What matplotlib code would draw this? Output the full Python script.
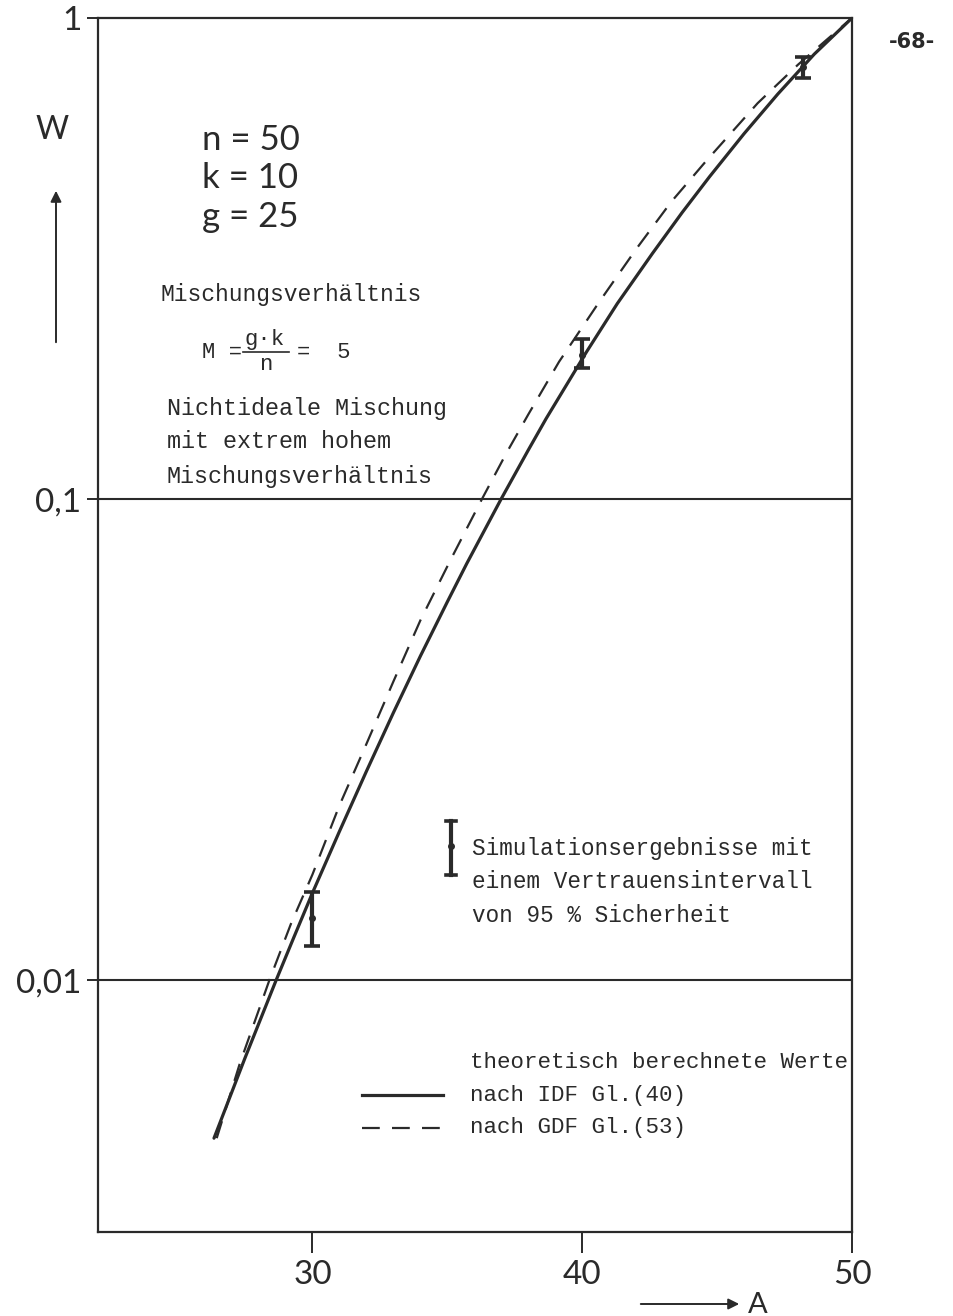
import matplotlib.pyplot as plt
from matplotlib.lines import Line2D
from matplotlib.ticker import NullLocator

# Kurve nach IDF Gl.(40)
a_idf = [26.35, 27.5, 28.65, 29.3, 30.0, 31.0, 32.0, 33.0, 34.0, 35.0, 35.72, 36.99,
         38.0, 38.66, 40.15, 41.3, 42.6, 43.7, 44.72, 46.0, 47.25, 48.6, 50.0]
w_idf = [0.0047, 0.0069, 0.01, 0.01225, 0.0152, 0.0204, 0.0272, 0.036, 0.0472, 0.0612,
         0.0735, 0.1, 0.1265, 0.147, 0.202, 0.255, 0.324, 0.394, 0.468, 0.575, 0.695,
         0.841, 1.0]

# Kurve nach GDF Gl.(53)
a_gdf = [26.45, 27.3, 28.4, 29.2, 30.0, 31.0, 32.0, 33.0, 34.0, 35.13, 36.28, 37.2,
         38.0, 39.14, 40.63, 42.0, 43.3, 44.6, 46.5, 48.0, 49.0, 50.0]
w_gdf = [0.0047, 0.0067, 0.01, 0.0131, 0.0166, 0.0231, 0.031, 0.0418, 0.056, 0.075,
         0.1, 0.125, 0.15, 0.193, 0.257, 0.331, 0.415, 0.505, 0.665, 0.80, 0.895, 1.0]

# Simulationsergebnisse mit 95 %-Vertrauensintervall
a_sim = [30, 40, 48.2]
w_sim = [0.0135, 0.199, 0.79]
w_lo = [0.0118, 0.187, 0.75]
w_hi = [0.0153, 0.215, 0.83]

x_ticks = [30, 40, 50]
y_ticks = [0.01, 0.1, 1]
y_labels = ['0,01', '0,1', '1']

W, H = 954, 1316
ink = '#2a2a2a'
geo = 'Lato'
mono = 'Liberation Mono'

fig = plt.figure(figsize=(W / 100, H / 100), dpi=100)
ax = fig.add_axes([98 / W, 1 - 1232 / H, (852 - 98) / W, (1232 - 18) / H])

ax.plot(a_idf, w_idf, color=ink, lw=2.3, solid_capstyle='round', solid_joinstyle='round')
ax.plot(a_gdf, w_gdf, color=ink, lw=1.6, dashes=[8, 5.5])

yerr = [[c - l for c, l in zip(w_sim, w_lo)], [h - c for c, h in zip(w_sim, w_hi)]]
ax.errorbar(a_sim, w_sim, yerr=yerr, fmt='o', ms=4, color=ink,
            elinewidth=3, capsize=5.5, capthick=2.6)

ax.axhline(0.1, color=ink, lw=1.5)
ax.axhline(0.01, color=ink, lw=1.5)

ax.set_yscale('log')
ax.set_xlim(22.05, 50)
ax.set_ylim(0.003, 1)
ax.set_xticks(x_ticks)
ax.set_xticklabels([str(t) for t in x_ticks])
ax.set_yticks(y_ticks)
ax.set_yticklabels(y_labels)
ax.yaxis.set_minor_locator(NullLocator())
ax.xaxis.set_minor_locator(NullLocator())
ax.tick_params(axis='x', length=15, width=1.4, pad=5, labelsize=24, colors=ink)
ax.tick_params(axis='y', length=8, width=1.4, pad=4, labelsize=24, colors=ink)
for lab in ax.get_xticklabels() + ax.get_yticklabels():
    lab.set_fontfamily(geo)
for s in ax.spines.values():
    s.set_linewidth(1.6)
    s.set_color(ink)


def txt(x, y, s, **kw):
    kw.setdefault('color', ink)
    kw.setdefault('va', 'center')
    fig.text(x / W, 1 - y / H, s, **kw)


def seg(x0, y0, x1, y1, **kw):
    fig.add_artist(Line2D([x0 / W, x1 / W], [1 - y0 / H, 1 - y1 / H],
                          transform=fig.transFigure, color=ink, **kw))


# Parameter
for i, s in enumerate(['n = 50', 'k = 10', 'g = 25']):
    txt(202, 140 + 38.5 * i, s, fontsize=25, family=geo)

txt(160, 295, 'Mischungsverhältnis', fontsize=16.6, family=mono)
txt(202, 352, 'M =', fontsize=16, family=mono)
txt(245, 340, 'g·k', fontsize=16, family=mono)
seg(243, 352, 289, 352, lw=1.2)
txt(259, 364, 'n', fontsize=16, family=mono)
txt(297, 352, '=  5', fontsize=16, family=mono)

for i, s in enumerate(['Nichtideale Mischung', 'mit extrem hohem', 'Mischungsverhältnis']):
    txt(167, 408 + 34 * i, s, fontsize=16.8, family=mono)

# Legende: Simulationsergebnisse
seg(451, 821, 451, 875, lw=3)
seg(446, 821, 456, 821, lw=2.6)
seg(446, 875, 456, 875, lw=2.6)
fig.add_artist(Line2D([451 / W], [1 - 846 / H], transform=fig.transFigure,
                      marker='o', ms=4, color=ink))
for i, s in enumerate(['Simulationsergebnisse mit', 'einem Vertrauensintervall',
                       'von 95 % Sicherheit']):
    txt(472, 848 + 33.5 * i, s, fontsize=16.3, family=mono)

# Legende: theoretische Kurven
txt(470, 1062, 'theoretisch berechnete Werte', fontsize=16.2, family=mono)
seg(362, 1095, 443, 1095, lw=2.3)
txt(470, 1095, 'nach IDF Gl.(40)', fontsize=16.2, family=mono)
fig.add_artist(Line2D([362 / W, 443 / W], [1 - 1128 / H, 1 - 1128 / H],
                      transform=fig.transFigure, color=ink, lw=1.6, dashes=[8, 5.5]))
txt(470, 1128, 'nach GDF Gl.(53)', fontsize=16.2, family=mono)

# Achsenbeschriftungen mit Pfeilen
txt(52, 130, 'W', fontsize=23, family=geo, ha='center')
fig.add_artist(plt.Annotation('', xy=(56 / W, 1 - 188 / H), xytext=(56 / W, 1 - 345 / H),
                              xycoords='figure fraction',
                              arrowprops=dict(arrowstyle='-|>', lw=1.4, color=ink,
                                              mutation_scale=16)))
txt(758, 1313, 'A', fontsize=21, family=geo, ha='center', va='baseline')
fig.add_artist(plt.Annotation('', xy=(742 / W, 1 - 1304 / H), xytext=(638 / W, 1 - 1304 / H),
                              xycoords='figure fraction',
                              arrowprops=dict(arrowstyle='-|>', lw=1.4, color=ink,
                                              mutation_scale=16)))

txt(912, 42, '-68-', fontsize=15, family='DejaVu Sans', fontweight='bold', ha='center')

fig.savefig('out.png', dpi=100, facecolor='white')
